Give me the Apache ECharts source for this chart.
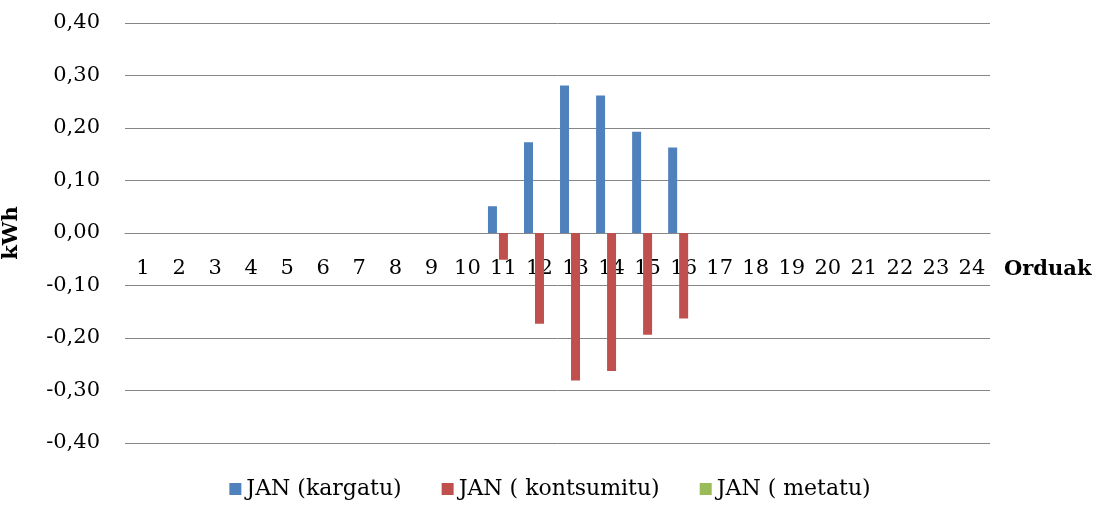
<!DOCTYPE html>
<html><head><meta charset="utf-8">
<script src="https://cdn.jsdelivr.net/npm/echarts@6/dist/echarts.min.js"></script>
<style>html,body{margin:0;padding:0;background:#fff}#c{width:1100px;height:505px}</style>
</head><body><div id="c"></div>
<script>
const hours = ['1','2','3','4','5','6','7','8','9','10','11','12','13','14','15','16','17','18','19','20','21','22','23','24'];
const kargatu = [0,0,0,0,0,0,0,0,0,0,0.051,0.173,0.281,0.262,0.193,0.163,0,0,0,0,0,0,0,0];
const kontsumitu = [0,0,0,0,0,0,0,0,0,0,-0.051,-0.173,-0.281,-0.263,-0.194,-0.163,0,0,0,0,0,0,0,0];
const metatu = [0,0,0,0,0,0,0,0,0,0,0,0,0,0,0,0,0,0,0,0,0,0,0,0];
const seriesNames = ['JAN (kargatu)','JAN ( kontsumitu)','JAN ( metatu)'];
const colors = ['#4F81BD','#C0504D','#9BBB59'];
const font = 'DejaVu Serif';
const chart = echarts.init(document.getElementById('c'));
chart.setOption({
  animation:false,
  grid:{left:125,right:110,top:23,bottom:62,containLabel:false,outerBoundsMode:'none'},
  legend:{bottom:0,left:'center',itemWidth:12,itemHeight:12,itemGap:40,icon:'rect',
    textStyle:{fontFamily:font,fontSize:22,color:'#000'},data:seriesNames},
  xAxis:{type:'category',data:hours,offset:-210,
    axisLine:{onZero:false,lineStyle:{color:'#868686',width:1}},
    axisTick:{show:false},
    axisLabel:{fontFamily:font,fontSize:21,color:'#000',margin:25,interval:0},
    name:'Orduak',nameLocation:'end',nameGap:14,
    nameTextStyle:{fontFamily:font,fontSize:21,fontWeight:'bold',color:'#000',align:'left',verticalAlign:'top',padding:[26,0,0,0]}},
  yAxis:{type:'value',min:-0.4,max:0.4,interval:0.1,
    axisLine:{show:false},axisTick:{show:false},
    splitLine:{lineStyle:{color:'#868686',width:1}},
    axisLabel:{fontFamily:font,fontSize:21,color:'#000',margin:25,
      formatter:v=>v.toFixed(2).replace('.',',')},
    name:'kWh',nameLocation:'middle',nameGap:103,nameRotate:90,
    nameTextStyle:{fontFamily:font,fontSize:21,fontWeight:'bold',color:'#000'}},
  series:[
    {name:seriesNames[0],type:'bar',data:kargatu,barWidth:9,barGap:'22%',itemStyle:{color:colors[0]}},
    {name:seriesNames[1],type:'bar',data:kontsumitu,barWidth:9,barGap:'22%',itemStyle:{color:colors[1]}},
    {name:seriesNames[2],type:'bar',data:metatu,barWidth:9,barGap:'22%',itemStyle:{color:colors[2]}}
  ]
});
</script></body></html>
